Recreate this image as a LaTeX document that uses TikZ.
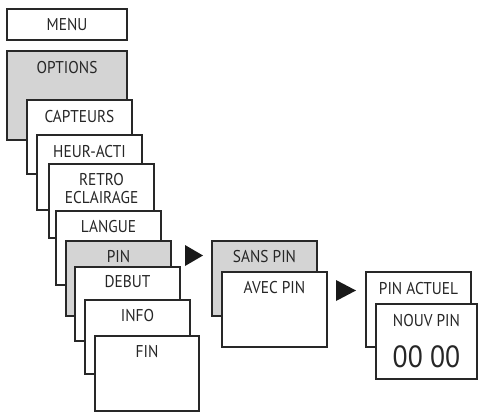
\documentclass[tikz,border=0pt]{standalone}
\usepackage{fontspec}
\setmainfont{PT Sans}[FakeStretch=0.9]
\newdimen\pxu \pxu=0.75pt
\definecolor{boxgray}{RGB}{212,212,212}
\definecolor{edge}{RGB}{40,40,40}
\tikzset{
  boxst/.style={draw=edge, line width=0.8pt, rectangle, inner sep=0pt, outer sep=0pt},
  lbl/.style={inner sep=0pt, font=\fontsize{12.8}{13.5}\selectfont, text=black!85, align=center},
  big/.style={inner sep=0pt, font=\fontsize{23}{26}\selectfont, text=black!85},
  tri/.style={fill=black!90}
}
\newcommand\mybox[8]{%
  \node[boxst, fill=#6, minimum width={(#4-#2)*\pxu}, minimum height={(#5-#3)*\pxu}] (#1) at ({(#2+#4)/2},{(#3+#5)/2}) {};
  \node[lbl] (#1-t) at ({(#2+#4)/2},#8) {#7};
}
\begin{document}
\begin{tikzpicture}[x=0.75pt,y=-0.75pt]
\useasboundingbox (0,0) rectangle (478,412);
\mybox{menu}{7}{9}{127}{40}{white}{MENU}{25}
\mybox{options}{7}{51}{127}{140}{boxgray}{OPTIONS}{68}
\mybox{capteurs}{27}{100}{132}{174}{white}{CAPTEURS}{117}
\mybox{heur}{37}{135}{142}{210}{white}{HEUR-ACTI}{152}
\mybox{retro}{49}{164}{154}{238}{white}{RETRO\\ECLAIRAGE}{189}
\mybox{langue}{56}{211}{161}{285}{white}{LANGUE}{227}
\mybox{pin}{66}{241}{171}{316}{boxgray}{PIN}{257}
\mybox{debut}{75}{267}{180}{341}{white}{DEBUT}{282}
\mybox{info}{85}{300}{190}{374}{white}{INFO}{316}
\mybox{fin}{95}{336}{199}{411}{white}{FIN}{352}
\mybox{sans}{212}{241}{317}{316}{boxgray}{SANS PIN}{257}
\mybox{avec}{222}{272}{327}{347}{white}{AVEC PIN}{288}
\mybox{actuel}{366}{272}{471}{347}{white}{PIN ACTUEL}{289}
\mybox{nouv}{376}{304}{477}{379}{white}{NOUV PIN}{321}
\node[big] (code) at (426.5,357) {00 00};
\fill[tri] (185,245) -- (203,255.5) -- (185,266) -- cycle;
\fill[tri] (336,280) -- (356,290.5) -- (336,301) -- cycle;
\end{tikzpicture}
\end{document}
